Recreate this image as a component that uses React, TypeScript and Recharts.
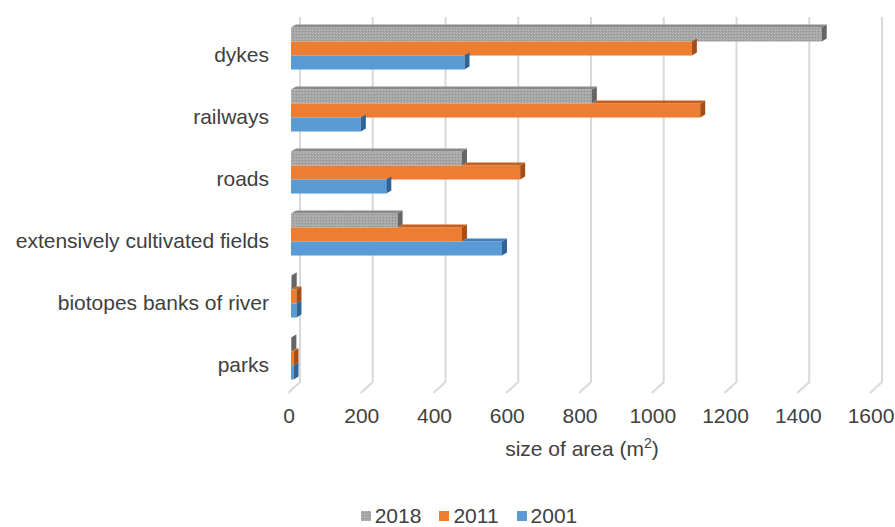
import { BarChart, Bar, XAxis, YAxis, CartesianGrid, Legend, Label } from 'recharts'

const categories = [
  'dykes',
  'railways',
  'roads',
  'extensively cultivated fields',
  'biotopes banks of river',
  'parks',
]
const area2018 = [1459, 827, 470, 293, 2, 1]
const area2011 = [1102, 1125, 630, 470, 15, 7]
const area2001 = [477, 192, 262, 580, 15, 7]
const xTicks = [0, 200, 400, 600, 800, 1000, 1200, 1400, 1600]

const FONT = "'Liberation Sans', Arial, sans-serif"
const TEXT = '#404040'

const series = [
  { key: 'y2018', name: '2018', front: 'url(#grayDots)', top: '#8a8a8a', side: '#666666', swatch: 'url(#grayDots)' },
  { key: 'y2011', name: '2011', front: '#ed7d31', top: '#c45f1d', side: '#a64f14', swatch: '#ed7d31' },
  { key: 'y2001', name: '2001', front: '#5b9bd5', top: '#3f7fbd', side: '#2f6499', swatch: '#5b9bd5' },
]

const data = categories.map((name, i) => ({
  name,
  y2018: area2018[i],
  y2011: area2011[i],
  y2001: area2001[i],
}))

// bar with a small top and side face, the lower bars hide their top under the bar above
function makeShape(idx: number) {
  const s = series[idx]
  const above = idx > 0 ? series[idx - 1].key : null
  return (props: any) => {
    const { x, y, width, height, payload } = props
    const d = 5
    const e = 3
    const right = x + width
    let topStart = x
    if (above) {
      const own = payload[s.key]
      const unit = own ? width / own : 0
      topStart = Math.max(x, x + payload[above] * unit)
    }
    return (
      <g>
        <rect x={x} y={y} width={Math.max(width, 0)} height={height} fill={s.front} />
        {topStart < right && (
          <polygon
            points={`${topStart},${y} ${topStart + d},${y - e} ${right + d},${y - e} ${right},${y}`}
            fill={s.top}
          />
        )}
        <polygon
          points={`${right},${y} ${right + d},${y - e} ${right + d},${y + height - e} ${right},${y + height}`}
          fill={s.side}
        />
      </g>
    )
  }
}

const gridLine = (props: any) => {
  const { x1, y1, y2, key } = props
  return (
    <path
      key={key}
      d={`M${x1 + 9},${y1} L${x1 + 9},${y2 - 7} L${x1 - 3},${y2 + 4}`}
      stroke="#d9d9d9"
      strokeWidth={2}
      fill="none"
    />
  )
}

const XTick = (props: any) => {
  const { x, y, payload } = props
  return (
    <text x={x - 2} y={y + 26} textAnchor="middle" fill={TEXT} fontSize={21} fontFamily={FONT}>
      {payload.value}
    </text>
  )
}

const YTick = (props: any) => {
  const { x, y, payload } = props
  return (
    <text x={x - 14} y={y + 13.5} textAnchor="end" fill={TEXT} fontSize={21} fontFamily={FONT}>
      {payload.value}
    </text>
  )
}

const AxisTitle = (props: any) => {
  const { viewBox } = props
  return (
    <text
      x={viewBox.x + viewBox.width / 2}
      y={viewBox.y + 67}
      textAnchor="middle"
      fill={TEXT}
      fontSize={21}
      fontFamily={FONT}
    >
      size of area (m<tspan baselineShift="super" fontSize={14}>2</tspan>)
    </text>
  )
}

const LegendBox = () => (
  <div
    style={{
      display: 'flex',
      justifyContent: 'center',
      alignItems: 'center',
      height: 26,
      fontFamily: FONT,
      fontSize: 21,
      color: TEXT,
    }}
  >
    {series.map((s, i) => (
      <span
        key={s.key}
        style={{ display: 'flex', alignItems: 'center', marginRight: i < series.length - 1 ? 18 : 0 }}
      >
        <svg width={10} height={10} style={{ marginRight: 4 }}>
          <rect width={10} height={10} fill={s.swatch} />
        </svg>
        {s.name}
      </span>
    ))}
  </div>
)

export default function App() {
  return (
    <div style={{ position: 'absolute', left: 0, top: 0, width: 895, height: 527, background: '#fff' }}>
      <svg width={0} height={0} style={{ position: 'absolute' }}>
        <defs>
          <pattern id="grayDots" width={3} height={3} patternUnits="userSpaceOnUse">
            <rect width={3} height={3} fill="#a5a5a5" />
            <rect x={0} y={0} width={1} height={1} fill="#bcbcbc" />
            <rect x={2} y={1} width={1} height={1} fill="#929292" />
            <rect x={1} y={2} width={1} height={1} fill="#b3b3b3" />
          </pattern>
        </defs>
      </svg>
      <BarChart
        width={895}
        height={527}
        data={data}
        layout="vertical"
        margin={{ top: 17, right: 22, bottom: 62, left: 0 }}
        barCategoryGap="17%"
        barGap={0}
      >
        <CartesianGrid horizontal={false} vertical={gridLine} />
        <XAxis
          type="number"
          domain={[0, 1600]}
          ticks={xTicks}
          axisLine={false}
          tickLine={false}
          height={50}
          tick={<XTick />}
        >
          <Label content={<AxisTitle />} />
        </XAxis>
        <YAxis
          type="category"
          dataKey="name"
          width={291}
          axisLine={false}
          tickLine={false}
          tick={<YTick />}
          interval={0}
        />
        {series.map((s, i) => (
          <Bar
            key={s.key}
            dataKey={s.key}
            name={s.name}
            fill={s.front}
            shape={makeShape(i)}
            isAnimationActive={false}
          />
        ))}
        <Legend
          verticalAlign="bottom"
          content={<LegendBox />}
          wrapperStyle={{ top: 503, left: 43, width: 852, bottom: 'auto' }}
        />
      </BarChart>
    </div>
  )
}
